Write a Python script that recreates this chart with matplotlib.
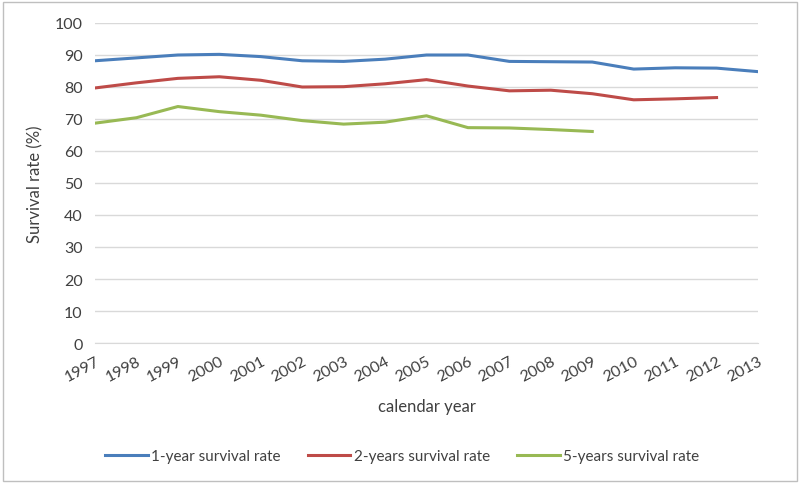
import matplotlib
matplotlib.use("Agg")
import matplotlib.pyplot as plt
from matplotlib.patches import Rectangle

years = [str(y) for y in range(1997, 2014)]

surv_1yr = [88.2, 89.1, 90.0, 90.2, 89.5, 88.2, 88.0, 88.7, 90.0, 90.0,
            88.0, 87.9, 87.8, 85.6, 86.0, 85.9, 84.8]
surv_2yr = [79.7, 81.3, 82.7, 83.2, 82.1, 80.0, 80.1, 81.0, 82.3, 80.3,
            78.8, 79.0, 77.9, 76.0, 76.3, 76.7]
surv_5yr = [68.7, 70.4, 73.9, 72.3, 71.2, 69.5, 68.4, 69.0, 71.0, 67.3,
            67.2, 66.7, 66.1]

plt.rcParams['font.family'] = ['Lato', 'DejaVu Sans']

fig = plt.figure(figsize=(8, 4.85), dpi=100)
ax = fig.add_axes([95/800, 1-344/485, (758-95)/800, (344-24)/485])

ax.plot(range(len(surv_1yr)), surv_1yr, color='#4A7EBB', lw=2.2, label='1-year survival rate')
ax.plot(range(len(surv_2yr)), surv_2yr, color='#BE4B48', lw=2.2, label='2-years survival rate')
ax.plot(range(len(surv_5yr)), surv_5yr, color='#98B954', lw=2.2, label='5-years survival rate')

ax.set_xlim(0, len(years)-1)
ax.set_ylim(0, 100)
ax.set_yticks(range(0, 101, 10))
ax.set_xticks(range(len(years)))
ax.set_xticklabels(years, rotation=28, ha='right', rotation_mode='anchor')
ax.tick_params(length=0, labelsize=11.5, colors='#404040')
ax.tick_params(axis='x', pad=8)
ax.tick_params(axis='y', pad=9)
ax.grid(axis='y', color='#D9D9D9', lw=1)
ax.set_axisbelow(True)
for s in ['top', 'right', 'left']:
    ax.spines[s].set_visible(False)
ax.spines['bottom'].set_color('#D9D9D9')

ax.set_xlabel('calendar year', fontsize=12, color='#404040', labelpad=10)
ax.set_ylabel('Survival rate (%)', fontsize=12, color='#404040', labelpad=8)

h, l = ax.get_legend_handles_labels()
leg = fig.legend(h, l, loc='center', bbox_to_anchor=(402/800, 1-457/485), ncol=3,
                 frameon=False, fontsize=11, handlelength=2.8, columnspacing=1.8,
                 handletextpad=0.2)
for t in leg.get_texts():
    t.set_color('#404040')

fig.patches.append(Rectangle((3/800, 3/485), 794/800, 479/485, transform=fig.transFigure,
                             fill=False, edgecolor='#BFBFBF', lw=1))

fig.savefig('out.png', dpi=100)
